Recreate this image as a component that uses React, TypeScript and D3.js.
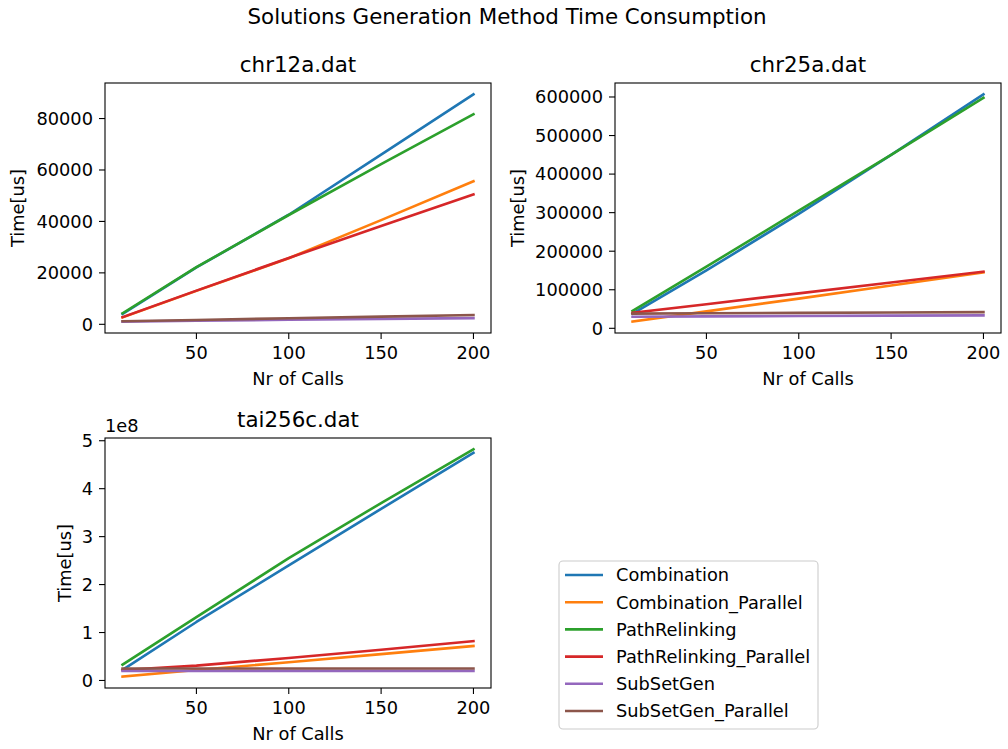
import React from "react";
import * as d3 from "d3";

const xCalls = [10, 50, 100, 150, 200];
const seriesNames = [
  "Combination",
  "Combination_Parallel",
  "PathRelinking",
  "PathRelinking_Parallel",
  "SubSetGen",
  "SubSetGen_Parallel",
];
const colors = ["#1f77b4", "#ff7f0e", "#2ca02c", "#d62728", "#9467bd", "#8c564b"];

// chr12a.dat
const chr12aCombination = [4000, 22100, 42600, 66000, 89400];
const chr12aCombinationParallel = [2700, 13000, 25700, 40500, 55600];
const chr12aPathRelinking = [4300, 22200, 42500, 62300, 81700];
const chr12aPathRelinkingParallel = [2800, 13100, 25800, 38200, 50500];
const chr12aSubSetGen = [1040, 1400, 1750, 2100, 2400];
const chr12aSubSetGenParallel = [1200, 1700, 2350, 3000, 3600];

// chr25a.dat
const chr25aCombination = [38000, 150000, 297000, 450000, 606800];
const chr25aCombinationParallel = [17300, 44000, 77000, 111000, 145000];
const chr25aPathRelinking = [45000, 160000, 305000, 450000, 598000];
const chr25aPathRelinkingParallel = [40000, 62500, 90700, 119000, 147000];
const chr25aSubSetGen = [30000, 31000, 32000, 33000, 33500];
const chr25aSubSetGenParallel = [38000, 39000, 40000, 41000, 42000];

// tai256c.dat
const taiCombination = [0.22e8, 1.22e8, 2.4e8, 3.58e8, 4.75e8];
const taiCombinationParallel = [0.08e8, 0.22e8, 0.38e8, 0.55e8, 0.72e8];
const taiPathRelinking = [0.33e8, 1.32e8, 2.55e8, 3.7e8, 4.82e8];
const taiPathRelinkingParallel = [0.22e8, 0.31e8, 0.47e8, 0.64e8, 0.82e8];
const taiSubSetGen = [0.2e8, 0.2e8, 0.2e8, 0.2e8, 0.2e8];
const taiSubSetGenParallel = [0.25e8, 0.25e8, 0.25e8, 0.25e8, 0.25e8];

const xTicks = [50, 100, 150, 200];
const chr12aTicks = [0, 20000, 40000, 60000, 80000];
const chr25aTicks = [0, 100000, 200000, 300000, 400000, 500000, 600000];
const taiTicks = [0, 1e8, 2e8, 3e8, 4e8, 5e8];

const FONT = "DejaVu Sans, sans-serif";
const FS = 17.8;
const TFS = 21.4;

type Panel = {
  title: string;
  series: number[][];
  yTicks: number[];
  scaleDiv: number;
  offsetText?: string;
  ylabelOffset: number;
  box: { left: number; right: number; top: number; bottom: number };
};

const panels: Panel[] = [
  {
    title: "chr12a.dat",
    series: [chr12aCombination, chr12aCombinationParallel, chr12aPathRelinking, chr12aPathRelinkingParallel, chr12aSubSetGen, chr12aSubSetGenParallel],
    yTicks: chr12aTicks,
    scaleDiv: 1,
    ylabelOffset: 81,
    box: { left: 105, right: 491, top: 83, bottom: 333 },
  },
  {
    title: "chr25a.dat",
    series: [chr25aCombination, chr25aCombinationParallel, chr25aPathRelinking, chr25aPathRelinkingParallel, chr25aSubSetGen, chr25aSubSetGenParallel],
    yTicks: chr25aTicks,
    scaleDiv: 1,
    ylabelOffset: 91,
    box: { left: 615, right: 1001, top: 83, bottom: 333 },
  },
  {
    title: "tai256c.dat",
    series: [taiCombination, taiCombinationParallel, taiPathRelinking, taiPathRelinkingParallel, taiSubSetGen, taiSubSetGenParallel],
    yTicks: taiTicks,
    scaleDiv: 1e8,
    offsetText: "1e8",
    ylabelOffset: 34,
    box: { left: 105, right: 491, top: 438, bottom: 688 },
  },
];

function PanelView({ p }: { p: Panel }) {
  const { left, right, top, bottom } = p.box;
  const xmin = d3.min(xCalls)!;
  const xmax = d3.max(xCalls)!;
  const xm = (xmax - xmin) * 0.05;
  const x = d3.scaleLinear().domain([xmin - xm, xmax + xm]).range([left, right]);
  const all = p.series.flat();
  const ymin = d3.min(all)!;
  const ymax = d3.max(all)!;
  const ym = (ymax - ymin) * 0.05;
  const y = d3.scaleLinear().domain([ymin - ym, ymax + ym]).range([bottom, top]);
  const line = d3
    .line<number>()
    .x((_, i) => x(xCalls[i]))
    .y((d) => y(d));
  const cx = (left + right) / 2;
  const cy = (top + bottom) / 2;
  return (
    <g>
      {p.series.map((s, i) => (
        <path key={i} d={line(s) || ""} fill="none" stroke={colors[i]} strokeWidth={2.6} strokeLinecap="square" strokeLinejoin="round" />
      ))}
      <rect x={left} y={top} width={right - left} height={bottom - top} fill="none" stroke="#000" strokeWidth={1.1} />
      {xTicks.map((t) => (
        <g key={t}>
          <line x1={x(t)} x2={x(t)} y1={bottom} y2={bottom + 6} stroke="#000" strokeWidth={1.1} />
          <text x={x(t)} y={bottom + 25.5} textAnchor="middle" fontSize={FS} fontFamily={FONT}>
            {t}
          </text>
        </g>
      ))}
      {p.yTicks.map((t) => (
        <g key={t}>
          <line x1={left - 6} x2={left} y1={y(t)} y2={y(t)} stroke="#000" strokeWidth={1.1} />
          <text x={left - 12} y={y(t) + 6.4} textAnchor="end" fontSize={FS} fontFamily={FONT}>
            {String(t / p.scaleDiv)}
          </text>
        </g>
      ))}
      {p.offsetText && (
        <text x={left} y={top - 6} fontSize={FS} fontFamily={FONT}>
          {p.offsetText}
        </text>
      )}
      <text x={cx} y={top - 11} textAnchor="middle" fontSize={TFS} fontFamily={FONT}>
        {p.title}
      </text>
      <text x={cx} y={bottom + 52} textAnchor="middle" fontSize={FS} fontFamily={FONT}>
        Nr of Calls
      </text>
      <text
        transform={`translate(${left - p.ylabelOffset},${cy}) rotate(-90)`}
        textAnchor="middle"
        fontSize={FS}
        fontFamily={FONT}
      >
        Time[us]
      </text>
    </g>
  );
}

function Legend() {
  const lx = 559;
  const ly = 561;
  const w = 259;
  const h = 168;
  const rowStart = 575;
  const rowStep = 27.2;
  return (
    <g>
      <rect x={lx} y={ly} width={w} height={h} rx={4} fill="#fff" fillOpacity={0.8} stroke="#cccccc" strokeWidth={1.1} />
      {seriesNames.map((n, i) => (
        <g key={n}>
          <line x1={565} x2={603} y1={rowStart + i * rowStep} y2={rowStart + i * rowStep} stroke={colors[i]} strokeWidth={2.6} />
          <text x={616} y={rowStart + i * rowStep + 6.4} fontSize={FS} fontFamily={FONT}>
            {n}
          </text>
        </g>
      ))}
    </g>
  );
}

export default function App() {
  return (
    <svg width={1008} height={749} style={{ position: "absolute", left: 0, top: 0, background: "#fff" }}>
      <rect x={0} y={0} width={1008} height={749} fill="#fff" />
      <text x={507} y={24} textAnchor="middle" fontSize={TFS} fontFamily={FONT}>
        Solutions Generation Method Time Consumption
      </text>
      {panels.map((p) => (
        <PanelView key={p.title} p={p} />
      ))}
      <Legend />
    </svg>
  );
}
